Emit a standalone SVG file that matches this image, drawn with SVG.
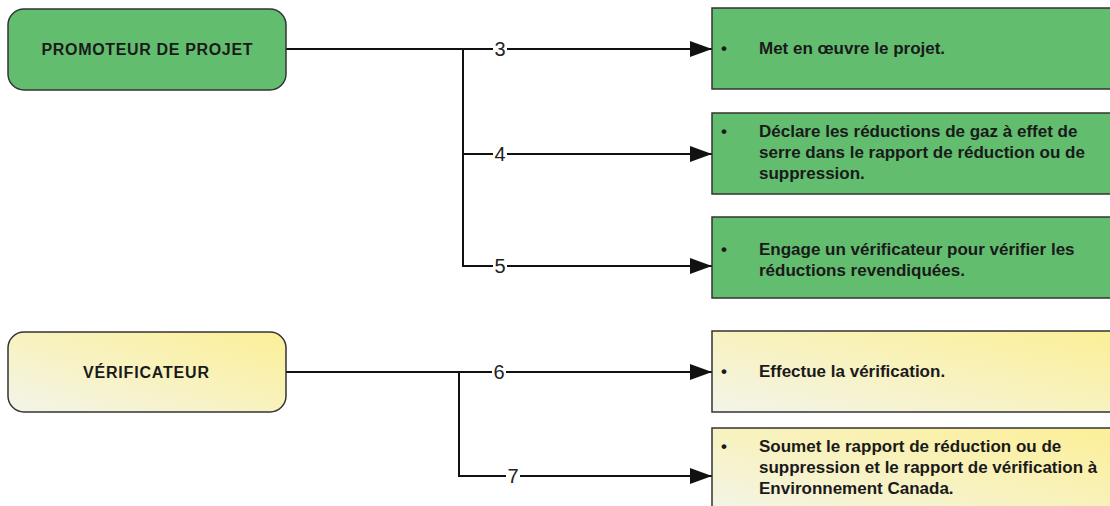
<svg xmlns="http://www.w3.org/2000/svg" width="1110" height="506" viewBox="0 0 1110 506">
<defs>
<linearGradient id="yel" x1="0" y1="1" x2="1" y2="0">
<stop offset="0" stop-color="#f3f4ea"/>
<stop offset="0.5" stop-color="#f8f2bf"/>
<stop offset="1" stop-color="#fcef96"/>
</linearGradient>
<marker id="arr" markerUnits="userSpaceOnUse" markerWidth="24" markerHeight="18" refX="22" refY="8" orient="auto">
<path d="M0,0 L22,8 L0,16 Z" fill="#111"/>
</marker>
<style>
.role{stroke:#333;stroke-width:1.5}
.green{fill:#62bd6f}
.yellow{fill:url(#yel)}
.title{font-family:"Liberation Sans",Arial,sans-serif;font-weight:bold;font-size:16px;fill:#1a1a1a;text-anchor:middle}
.txt{font-family:"Liberation Sans",Arial,sans-serif;font-weight:bold;font-size:17px;fill:#1a1a1a}
.conn{fill:none;stroke:#111;stroke-width:2}
.lbl{font-family:"Liberation Sans",Arial,sans-serif;font-size:20px;fill:#222;text-anchor:middle}
.lblbg{fill:#fff}
</style>
</defs>
<rect width="1110" height="506" fill="#fff"/>

<g id="connectors">
<path class="conn" d="M286,49 H712" marker-end="url(#arr)"/>
<path class="conn" d="M463,49 V266 H712" marker-end="url(#arr)"/>
<path class="conn" d="M463,154 H712" marker-end="url(#arr)"/>
<path class="conn" d="M286,372 H712" marker-end="url(#arr)"/>
<path class="conn" d="M459,372 V476 H712" marker-end="url(#arr)"/>
<rect class="lblbg" x="493" y="39" width="14" height="20"/>
<text class="lbl" x="500" y="56">3</text>
<rect class="lblbg" x="493" y="144" width="14" height="20"/>
<text class="lbl" x="500" y="161">4</text>
<rect class="lblbg" x="493" y="256" width="14" height="20"/>
<text class="lbl" x="500" y="273">5</text>
<rect class="lblbg" x="492" y="362" width="14" height="20"/>
<text class="lbl" x="499" y="379">6</text>
<rect class="lblbg" x="506" y="466" width="14" height="20"/>
<text class="lbl" x="513" y="483">7</text>
</g>

<g id="promoteur">
<rect class="role green" x="8" y="9" width="278" height="81" rx="16"/>
<text class="title" x="147" y="55" textLength="211" lengthAdjust="spacing">PROMOTEUR DE PROJET</text>
</g>

<g id="verificateur">
<rect class="role yellow" x="8" y="332" width="278" height="80" rx="16"/>
<text class="title" x="146" y="378" textLength="126" lengthAdjust="spacing">VÉRIFICATEUR</text>
</g>

<g id="step3">
<rect class="role green" x="712" y="8" width="402" height="81"/>
<text class="txt" x="721" y="54">•</text>
<text class="txt" x="759" y="54">Met en œuvre le projet.</text>
</g>

<g id="step4">
<rect class="role green" x="712" y="113" width="402" height="81"/>
<text class="txt" x="721" y="137">•</text>
<text class="txt" x="759" y="137">Déclare les réductions de gaz à effet de</text>
<text class="txt" x="759" y="158">serre dans le rapport de réduction ou de</text>
<text class="txt" x="759" y="179">suppression.</text>
</g>

<g id="step5">
<rect class="role green" x="712" y="217" width="402" height="81"/>
<text class="txt" x="721" y="255">•</text>
<text class="txt" x="759" y="255">Engage un vérificateur pour vérifier les</text>
<text class="txt" x="759" y="276">réductions revendiquées.</text>
</g>

<g id="step6">
<rect class="role yellow" x="712" y="331" width="402" height="81"/>
<text class="txt" x="721" y="377">•</text>
<text class="txt" x="759" y="377">Effectue la vérification.</text>
</g>

<g id="step7">
<rect class="role yellow" x="712" y="428" width="402" height="90"/>
<text class="txt" x="721" y="452">•</text>
<text class="txt" x="759" y="452">Soumet le rapport de réduction ou de</text>
<text class="txt" x="759" y="473">suppression et le rapport de vérification à</text>
<text class="txt" x="759" y="494">Environnement Canada.</text>
</g>
</svg>
